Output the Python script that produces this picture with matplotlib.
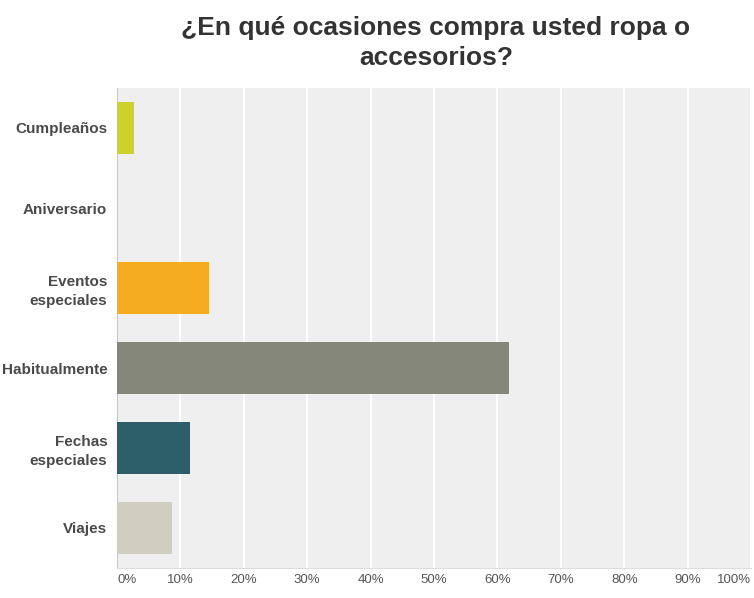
import numpy as np
import matplotlib.pyplot as plt

categories = ['Cumpleaños', 'Aniversario', 'Eventos\nespeciales', 'Habitualmente',
              'Fechas\nespeciales', 'Viajes']
values = [2.7, 0.0, 14.5, 61.8, 11.5, 8.7]
colors = ['#cdd22a', '#ffffff', '#f5ac1e', '#85877a', '#2d5f6b', '#cfcec0']
ticks = [0, 10, 20, 30, 40, 50, 60, 70, 80, 90, 100]
tick_labels = [f'{t}%' for t in ticks]

plt.rcParams['font.family'] = ['Liberation Sans', 'DejaVu Sans']

fig = plt.figure(figsize=(7.54, 5.98), dpi=100)
ax = fig.add_axes([117/754, 1 - 568/598, 634/754, 480/598])
ax.set_facecolor('#efefef')

y = np.arange(len(categories))
ax.barh(y, values, height=0.65, color=colors, zorder=3)
ax.set_ylim(len(categories) - 0.5, -0.5)
ax.set_xlim(0, 100)

ax.set_xticks(ticks)
ax.set_xticklabels(tick_labels, fontsize=9.5, color='#555555')
xl = ax.get_xticklabels()
xl[0].set_ha('left')
xl[-1].set_ha('right')
ax.grid(axis='x', color='white', linewidth=1.5, zorder=1)
ax.tick_params(axis='x', length=0, pad=4)

ax.set_yticks(y)
ax.set_yticklabels(categories, fontsize=11, fontweight='bold', color='#4a4a4a',
                   linespacing=1.45)
ax.tick_params(axis='y', length=0, pad=7)

for s in ['top', 'right']:
    ax.spines[s].set_visible(False)
ax.spines['left'].set_color('#c8c8c8')
ax.spines['bottom'].set_color('#dddddd')

fig.text(436/754, 1 - 43/598, '¿En qué ocasiones compra usted ropa o\naccesorios?',
         ha='center', va='center', fontsize=19, fontweight='bold', color='#333333',
         linespacing=1.35)

fig.savefig('out.png', dpi=100)
